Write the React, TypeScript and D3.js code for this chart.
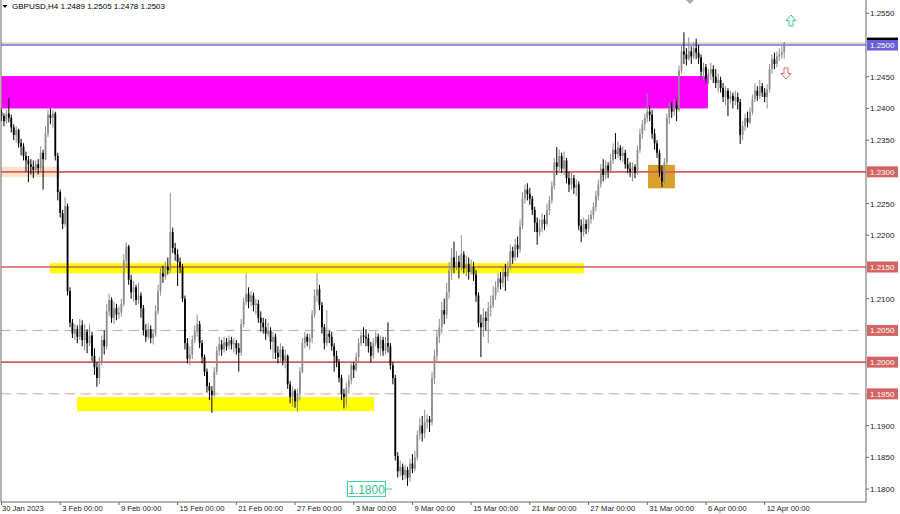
import React from "react";
import * as d3 from "d3";

const firstOpen = 1.2395;
const closes = [
  1.2388,1.2380,1.2392,1.2385,1.2370,1.2358,1.2366,1.2345,1.2340,1.2325,
  1.2318,1.2312,1.2308,1.2303,1.2312,1.2306,1.2330,1.2320,1.2360,1.2390,
  1.2385,1.2392,1.2325,1.2268,1.2235,1.2218,1.2246,1.2112,1.2062,1.2045,
  1.2052,1.2040,1.2058,1.2035,1.2048,1.2030,1.2042,1.2010,1.1992,1.1975,
  1.2000,1.2035,1.2025,1.2080,1.2098,1.2070,1.2085,1.2075,1.2078,1.2092,
  1.2160,1.2182,1.2130,1.2110,1.2118,1.2098,1.2105,1.2085,1.2050,1.2040,
  1.2052,1.2038,1.2045,1.2080,1.2112,1.2140,1.2135,1.2150,1.2145,1.2205,
  1.2180,1.2170,1.2158,1.2150,1.2100,1.2030,1.2005,1.2012,1.2035,1.2048,
  1.2060,1.2030,1.2008,1.1985,1.1962,1.1955,1.1948,1.1985,1.2018,1.2028,
  1.2020,1.2032,1.2025,1.2035,1.2028,1.2030,1.2022,1.2015,1.2060,1.2095,
  1.2108,1.2095,1.2105,1.2090,1.2092,1.2070,1.2062,1.2055,1.2045,1.2050,
  1.2032,1.2040,1.2015,1.2008,1.2020,1.2002,1.2010,1.1965,1.1945,1.1955,
  1.1938,1.1950,1.1985,1.2030,1.2040,1.2032,1.2038,1.2075,1.2105,1.2115,
  1.2090,1.2055,1.2030,1.2045,1.2040,1.2025,1.2010,1.2000,1.1975,1.1950,
  1.1945,1.1960,1.1972,1.1995,1.1988,1.2008,1.2030,1.2042,1.2040,1.2038,
  1.2025,1.2010,1.2030,1.2040,1.2022,1.2035,1.2018,1.2030,1.2025,1.1995,
  1.1975,1.1852,1.1828,1.1835,1.1822,1.1830,1.1818,1.1840,1.1832,1.1850,
  1.1885,1.1900,1.1888,1.1905,1.1910,1.1905,1.1975,1.2010,1.2040,1.2055,
  1.2082,1.2075,1.2110,1.2145,1.2165,1.2150,1.2158,1.2150,1.2170,1.2148,
  1.2155,1.2142,1.2150,1.2138,1.2105,1.2062,1.2055,1.2070,1.2065,1.2085,
  1.2090,1.2105,1.2118,1.2132,1.2125,1.2142,1.2135,1.2150,1.2175,1.2165,
  1.2185,1.2178,1.2215,1.2258,1.2272,1.2265,1.2258,1.2240,1.2220,1.2205,
  1.2212,1.2225,1.2218,1.2240,1.2255,1.2278,1.2315,1.2308,1.2325,1.2305,
  1.2318,1.2290,1.2280,1.2290,1.2275,1.2280,1.2215,1.2205,1.2218,1.2210,
  1.2225,1.2232,1.2245,1.2262,1.2280,1.2305,1.2295,1.2310,1.2302,1.2318,
  1.2335,1.2328,1.2338,1.2325,1.2330,1.2312,1.2305,1.2300,1.2308,1.2298,
  1.2335,1.2360,1.2375,1.2385,1.2395,1.2390,1.2360,1.2345,1.2330,1.2300,
  1.2285,1.2315,1.2385,1.2400,1.2395,1.2405,1.2398,1.2460,1.2490,1.2485,
  1.2478,1.2490,1.2482,1.2495,1.2488,1.2480,1.2458,1.2465,1.2448,1.2455,
  1.2462,1.2450,1.2440,1.2445,1.2432,1.2418,1.2428,1.2415,1.2420,1.2412,
  1.2418,1.2410,1.2358,1.2372,1.2385,1.2378,1.2395,1.2415,1.2428,1.2420,
  1.2435,1.2425,1.2418,1.2430,1.2462,1.2478,1.2470,1.2482,1.2485,1.2489,
  1.2503
];
const highs = [
  1.2400,1.2392,1.2398,1.2416,1.2390,1.2375,1.2372,1.2368,1.2352,1.2345,
  1.2332,1.2325,1.2320,1.2318,1.2318,1.2320,1.2340,1.2335,1.2372,1.2398,
  1.2400,1.2398,1.2395,1.2330,1.2272,1.2240,1.2260,1.2250,1.2118,1.2068,
  1.2060,1.2058,1.2068,1.2066,1.2060,1.2052,1.2060,1.2048,1.2022,1.2000,
  1.2008,1.2042,1.2050,1.2092,1.2108,1.2102,1.2095,1.2092,1.2088,1.2100,
  1.2170,1.2189,1.2185,1.2138,1.2128,1.2122,1.2125,1.2110,1.2090,1.2060,
  1.2062,1.2058,1.2052,1.2090,1.2122,1.2150,1.2152,1.2158,1.2165,1.2267,
  1.2212,1.2188,1.2178,1.2165,1.2155,1.2105,1.2038,1.2025,1.2042,1.2058,
  1.2075,1.2065,1.2035,1.2012,1.1990,1.1968,1.1962,1.1992,1.2025,1.2040,
  1.2035,1.2040,1.2038,1.2042,1.2040,1.2038,1.2035,1.2030,1.2068,1.2102,
  1.2140,1.2118,1.2112,1.2110,1.2100,1.2098,1.2080,1.2070,1.2068,1.2062,
  1.2055,1.2048,1.2045,1.2025,1.2030,1.2025,1.2020,1.2012,1.1970,1.1962,
  1.1958,1.1958,1.1992,1.2038,1.2048,1.2045,1.2045,1.2082,1.2115,1.2140,
  1.2122,1.2095,1.2060,1.2082,1.2050,1.2048,1.2030,1.2018,1.2005,1.1980,
  1.1958,1.1968,1.1980,1.2002,1.2000,1.2015,1.2038,1.2048,1.2055,1.2052,
  1.2045,1.2032,1.2038,1.2048,1.2045,1.2042,1.2040,1.2040,1.2063,1.2030,
  1.2000,1.1980,1.1858,1.1845,1.1840,1.1838,1.1835,1.1848,1.1855,1.1860,
  1.1892,1.1912,1.1915,1.1925,1.1918,1.1915,1.1985,1.2020,1.2050,1.2068,
  1.2095,1.2100,1.2125,1.2158,1.2180,1.2190,1.2175,1.2168,1.2200,1.2175,
  1.2168,1.2165,1.2162,1.2158,1.2145,1.2110,1.2075,1.2085,1.2080,1.2095,
  1.2105,1.2120,1.2128,1.2140,1.2142,1.2150,1.2155,1.2160,1.2185,1.2182,
  1.2195,1.2198,1.2225,1.2268,1.2280,1.2282,1.2275,1.2262,1.2245,1.2228,
  1.2225,1.2235,1.2232,1.2250,1.2262,1.2285,1.2322,1.2339,1.2335,1.2330,
  1.2332,1.2322,1.2300,1.2298,1.2295,1.2288,1.2285,1.2225,1.2228,1.2225,
  1.2232,1.2240,1.2252,1.2270,1.2288,1.2312,1.2320,1.2318,1.2315,1.2328,
  1.2345,1.2361,1.2348,1.2342,1.2340,1.2335,1.2322,1.2315,1.2315,1.2312,
  1.2342,1.2368,1.2382,1.2392,1.2424,1.2405,1.2398,1.2368,1.2350,1.2335,
  1.2310,1.2322,1.2392,1.2408,1.2410,1.2415,1.2412,1.2468,1.2500,1.2520,
  1.2495,1.2512,1.2498,1.2505,1.2510,1.2500,1.2485,1.2472,1.2470,1.2462,
  1.2472,1.2468,1.2462,1.2455,1.2450,1.2440,1.2435,1.2432,1.2428,1.2425,
  1.2428,1.2425,1.2415,1.2380,1.2392,1.2395,1.2402,1.2422,1.2440,1.2435,
  1.2445,1.2440,1.2432,1.2438,1.2470,1.2485,1.2488,1.2490,1.2495,1.2498,
  1.2505
];
const lows = [
  1.2380,1.2372,1.2376,1.2378,1.2362,1.2350,1.2346,1.2338,1.2326,1.2318,
  1.2300,1.2284,1.2296,1.2290,1.2298,1.2296,1.2300,1.2272,1.2318,1.2355,
  1.2375,1.2370,1.2318,1.2255,1.2228,1.2210,1.2214,1.2105,1.2055,1.2038,
  1.2035,1.2030,1.2035,1.2025,1.2018,1.2014,1.2025,1.2002,1.1980,1.1961,
  1.1965,1.1995,1.2012,1.2020,1.2072,1.2062,1.2060,1.2066,1.2068,1.2072,
  1.2088,1.2150,1.2122,1.2100,1.2095,1.2090,1.2092,1.2070,1.2042,1.2032,
  1.2036,1.2030,1.2028,1.2040,1.2075,1.2105,1.2125,1.2130,1.2138,1.2140,
  1.2172,1.2160,1.2120,1.2140,1.2095,1.2020,1.1998,1.1995,1.2005,1.2030,
  1.2040,1.2022,1.1998,1.1978,1.1952,1.1940,1.1920,1.1945,1.1980,1.2010,
  1.2010,1.2015,1.2018,1.2020,1.2020,1.2015,1.2012,1.1985,1.2010,1.2055,
  1.2090,1.2085,1.2088,1.2080,1.2075,1.2062,1.2048,1.2045,1.2035,1.2040,
  1.2020,1.2005,1.2005,1.1998,1.2000,1.1995,1.1990,1.1958,1.1935,1.1930,
  1.1928,1.1922,1.1940,1.1982,1.2022,1.2025,1.2020,1.2030,1.2070,1.2095,
  1.2082,1.2045,1.2020,1.2025,1.2030,1.2018,1.1985,1.1992,1.1968,1.1940,
  1.1927,1.1930,1.1950,1.1965,1.1975,1.1985,1.2000,1.2025,1.2030,1.2025,
  1.2015,1.2000,1.2005,1.2025,1.2015,1.2010,1.2010,1.2012,1.2015,1.1988,
  1.1965,1.1845,1.1818,1.1820,1.1814,1.1815,1.1805,1.1812,1.1825,1.1828,
  1.1845,1.1878,1.1875,1.1880,1.1895,1.1890,1.1900,1.1965,1.2000,1.2030,
  1.2045,1.2060,1.2068,1.2100,1.2130,1.2140,1.2145,1.2132,1.2145,1.2140,
  1.2135,1.2130,1.2138,1.2128,1.2095,1.2055,1.2008,1.2040,1.2050,1.2030,
  1.2072,1.2085,1.2098,1.2110,1.2115,1.2118,1.2112,1.2128,1.2145,1.2155,
  1.2160,1.2165,1.2172,1.2210,1.2250,1.2255,1.2248,1.2232,1.2205,1.2185,
  1.2198,1.2205,1.2208,1.2215,1.2232,1.2250,1.2272,1.2295,1.2300,1.2298,
  1.2295,1.2282,1.2268,1.2272,1.2265,1.2262,1.2208,1.2189,1.2198,1.2202,
  1.2205,1.2218,1.2225,1.2238,1.2255,1.2275,1.2285,1.2288,1.2290,1.2298,
  1.2312,1.2320,1.2322,1.2318,1.2315,1.2305,1.2298,1.2292,1.2285,1.2290,
  1.2295,1.2330,1.2352,1.2365,1.2378,1.2380,1.2352,1.2335,1.2322,1.2292,
  1.2276,1.2280,1.2310,1.2375,1.2385,1.2388,1.2380,1.2395,1.2455,1.2470,
  1.2468,1.2475,1.2470,1.2478,1.2478,1.2470,1.2450,1.2445,1.2440,1.2438,
  1.2445,1.2440,1.2432,1.2425,1.2425,1.2410,1.2405,1.2388,1.2408,1.2400,
  1.2405,1.2398,1.2344,1.2350,1.2365,1.2370,1.2375,1.2390,1.2410,1.2412,
  1.2415,1.2418,1.2410,1.2400,1.2425,1.2455,1.2462,1.2465,1.2475,1.2478,
  1.2478
];

const timeLabelBars = [0, 24, 48, 72, 96, 120, 144, 168, 192, 216, 240, 264, 288, 312];
const timeLabels = [
  "30 Jan 2023", "3 Feb 00:00", "9 Feb 00:00", "15 Feb 00:00", "21 Feb 00:00",
  "27 Feb 00:00", "3 Mar 00:00", "9 Mar 00:00", "15 Mar 00:00", "21 Mar 00:00",
  "27 Mar 00:00", "31 Mar 00:00", "6 Apr 00:00", "12 Apr 00:00"
];
const axisPrices = [1.2550, 1.2450, 1.2400, 1.2350, 1.2250, 1.2200, 1.2100, 1.1900, 1.1850, 1.1800];
const levelPrices = [1.2300, 1.2150, 1.2050, 1.2000, 1.1950];
const levelDashed = [false, false, true, false, true];
const blueLevel = 1.2500;
const bidPrice = 1.2503;
const lowLabelPrice = 1.1800;

// zones: [fromBar, toBar, topPrice, bottomPrice]
const zoneMagenta = [0, 288.8, 1.2451, 1.2400];
const zoneYellowHigh = [19.8, 238.2, 1.2156, 1.2140];
const zoneYellowLow = [30.9, 152.3, 1.19448, 1.19227];
const zoneOrange = [264.3, 275.3, 1.2311, 1.2274];
const zonePeach = [-1, 23.9, 1.2308, 1.2292];

const header = "GBPUSD,H4  1.2489 1.2505 1.2478 1.2503";

const W = 900, H = 514;
const plotRight = 866, plotBottom = 502;
const font = "'Liberation Sans', Arial, sans-serif";

export default function App() {
  const n = closes.length;
  const x = d3.scaleLinear().domain([0, n - 1]).range([1.5, 1.5 + (n - 1) * 2.446]);
  const y = d3.scaleLinear().domain([1.18, 1.25]).range([489, 45]);
  const opens = closes.map((c, i) => (i === 0 ? firstOpen : closes[i - 1]));

  const zoneRect = (z: number[], fill: string, key: string) => (
    <rect key={key} x={Math.max(1, x(z[0]))} y={y(z[2])} width={x(z[1]) - Math.max(1, x(z[0]))}
      height={y(z[3]) - y(z[2])} fill={fill} />
  );

  const red = "#d65c5c";
  const redLabel = "#d46464";

  return (
    <svg width={W} height={H} style={{ position: "absolute", left: 0, top: 0, background: "#fff" }}
      fontFamily={font}>
      <rect x={0} y={0} width={W} height={H} fill="#fff" />
      <defs>
        <clipPath id="plot"><rect x={1} y={0} width={plotRight - 1} height={plotBottom} /></clipPath>
      </defs>
      <g clipPath="url(#plot)">
        {zoneRect(zonePeach, "#fce1cc", "peach")}
        {zoneRect(zoneMagenta, "#ff00ff", "mag")}
        {zoneRect(zoneYellowHigh, "#ffff00", "yh")}
        {zoneRect(zoneYellowLow, "#ffff00", "yl")}
        {zoneRect(zoneOrange, "#d9a02a", "or")}
        {/* level lines */}
        {levelPrices.map((p, i) => (
          <line key={"lv" + i} x1={1} x2={plotRight} y1={y(p)} y2={y(p)}
            stroke={levelDashed[i] ? "#e09a9a" : red} strokeWidth={levelDashed[i] ? 1 : 1.6}
            strokeDasharray={levelDashed[i] ? "10,6" : undefined} />
        ))}
        <line x1={1} x2={plotRight} y1={y(bidPrice)} y2={y(bidPrice)} stroke="#b8b8b8" strokeWidth={1} />
        <line x1={1} x2={plotRight} y1={y(blueLevel)} y2={y(blueLevel)} stroke="#6f6fd6" strokeWidth={1.6} />
        {/* candles */}
        {closes.map((c, i) => {
          const o = opens[i];
          const hi = Math.max(highs[i], o, c);
          const lo = Math.min(lows[i], o, c);
          const up = c >= o;
          const col = up ? "#8e8e8e" : "#000";
          const cx = x(i);
          const top = y(Math.max(o, c));
          const bh = Math.max(1, y(Math.min(o, c)) - top);
          return (
            <g key={"c" + i}>
              <line x1={cx} x2={cx} y1={y(hi)} y2={y(lo)} stroke={col} strokeWidth={1} />
              <rect x={cx - 0.9} y={top} width={1.8} height={bh} fill={col} />
            </g>
          );
        })}
      </g>
      {/* frame */}
      <line x1={1} x2={1} y1={0} y2={plotBottom} stroke="#666" strokeWidth={1} />
      <line x1={plotRight} x2={plotRight} y1={0} y2={plotBottom} stroke="#666" strokeWidth={1} />
      <line x1={1} x2={plotRight} y1={plotBottom} y2={plotBottom} stroke="#666" strokeWidth={1} />

      {/* header */}
      <path d="M2.5,5 L7.5,5 L5,8 Z" fill="#000" />
      <text x={12} y={9} fontSize={8} fill="#000">{header}</text>
      <path d="M686,0 L694,0 L690,4 Z" fill="#aaa" />

      {/* arrows */}
      <path d="M791,15 L796,20.5 L793,20.5 L793,26 L789,26 L789,20.5 L786,20.5 Z" fill="none" stroke="#46c97d" strokeWidth={1} />
      <path d="M786,79 L791,73.5 L788,73.5 L788,68 L784,68 L784,73.5 L781,73.5 Z" fill="none" stroke="#e06666" strokeWidth={1} />

      {/* 1.1800 label */}
      <rect x={347.5} y={481.5} width={38} height={15} fill="#fff" stroke="#44d39a" strokeWidth={1} />
      <line x1={386} x2={392} y1={489} y2={489} stroke="#44d39a" strokeWidth={1} />
      <text x={366.5} y={493.5} fontSize={12} textAnchor="middle" fill="#33c48a">{lowLabelPrice.toFixed(4)}</text>

      {/* price axis */}
      {axisPrices.map((p, i) => (
        <g key={"ap" + i}>
          <line x1={plotRight} x2={plotRight + 3} y1={y(p)} y2={y(p)} stroke="#666" />
          <text x={870} y={y(p) + 3} fontSize={8} fill="#222">{p.toFixed(4)}</text>
        </g>
      ))}
      {levelPrices.map((p, i) => (
        <g key={"lp" + i}>
          <rect x={plotRight + 1} y={y(p) - 5.5} width={31} height={11} fill={redLabel} />
          <text x={870} y={y(p) + 3} fontSize={8} fill="#fff">{p.toFixed(4)}</text>
        </g>
      ))}
      <rect x={plotRight + 1} y={y(bidPrice) - 5.5} width={31} height={11} fill="#000" />
      <rect x={plotRight + 1} y={y(blueLevel) - 5} width={31} height={10.5} fill="#6a5fd8" />
      <text x={870} y={y(blueLevel) + 3} fontSize={8} fill="#fff">{blueLevel.toFixed(4)}</text>

      {/* time axis */}
      {timeLabelBars.map((b, i) => (
        <g key={"t" + i}>
          <line x1={x(b)} x2={x(b)} y1={plotBottom} y2={plotBottom + 3} stroke="#666" />
          <text x={x(b) + (i === 0 ? 0.5 : 2)} y={511} fontSize={7.6} fill="#222">{timeLabels[i]}</text>
        </g>
      ))}
    </svg>
  );
}
